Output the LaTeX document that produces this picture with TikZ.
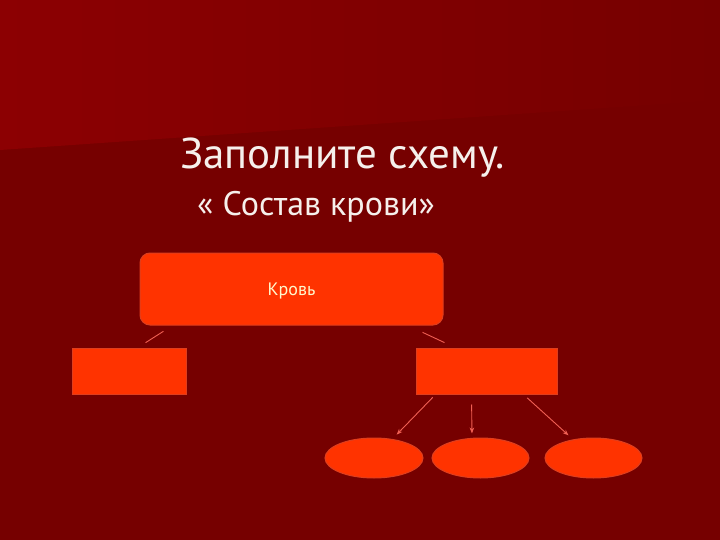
\documentclass[tikz,border=0pt]{standalone}
\usepackage{fontspec}
\setmainfont{PT Sans}
\usetikzlibrary{arrows.meta, shapes.geometric}
\definecolor{bgdark}{RGB}{118,0,0}
\definecolor{bglight}{RGB}{140,0,2}
\definecolor{boxfill}{RGB}{255,51,0}
\definecolor{boxedge}{RGB}{222,62,30}
\definecolor{linkred}{RGB}{240,96,84}
\definecolor{titlewhite}{RGB}{246,240,236}
\definecolor{cream}{RGB}{255,248,205}

\begin{document}
\begin{tikzpicture}[
    x=1pt, y=-1pt,
    block/.style={rectangle, draw=boxedge, fill=boxfill, line width=1pt, inner sep=0pt},
    cell/.style={ellipse, draw=boxedge, fill=boxfill, line width=1pt, inner sep=0pt},
    link/.style={draw=linkred, line width=0.9pt},
    arrow/.style={link, -{Stealth[length=6pt, width=4.5pt]}}
]
    % Background
    \useasboundingbox (0,0) rectangle (720,540);
    \fill[bgdark] (0,0) rectangle (720,540);
    \shade[left color=bglight, right color=bgdark] (0,0) -- (720,0) -- (720,100) -- (0,150) -- cycle;

    % Titles
    \node[anchor=base west, inner sep=0pt, text=titlewhite, font=\fontsize{43}{47}\selectfont] (title) at (180,169) {Заполните схему.};
    \node[anchor=base west, inner sep=0pt, text=titlewhite, font=\fontsize{34}{38}\selectfont] (subtitle) at (197,215) {« Состав крови»};

    % Components
    \node[block, rounded corners=10pt, minimum width=303pt, minimum height=72pt, text=cream, font=\fontsize{18}{20}\selectfont, text depth=0pt] (blood) at (291.5,289) {Кровь};
    \node[block, minimum width=114pt, minimum height=46pt] (plasma) at (129,371) {};
    \node[block, minimum width=141pt, minimum height=46pt] (cells) at (486.5,371) {};
    \node[cell, minimum width=98pt, minimum height=40pt] (rbc) at (374,458) {};
    \node[cell, minimum width=97pt, minimum height=40pt] (wbc) at (480.5,458) {};
    \node[cell, minimum width=97pt, minimum height=40pt] (plt) at (593.5,458) {};

    % Lines
    \draw[link, shorten <=10.8pt, shorten >=9pt] ([xshift=33pt]blood.south west) -- ([xshift=66.5pt]plasma.north west);
    \draw[link, shorten <=16.2pt, shorten >=11.6pt] ([xshift=-35.6pt]blood.south east) -- ([xshift=39.5pt]cells.north west);
    \draw[arrow, shorten <=4pt, shorten >=6pt] ([xshift=20pt]cells.south west) -- (rbc);
    \draw[arrow, shorten <=10pt, shorten >=4pt] ([xshift=56pt]cells.south west) -- ([xshift=-8.5pt]wbc.north);
    \draw[arrow, shorten <=5pt, shorten >=6pt] ([xshift=108pt]cells.south west) -- (plt);
\end{tikzpicture}
\end{document}
